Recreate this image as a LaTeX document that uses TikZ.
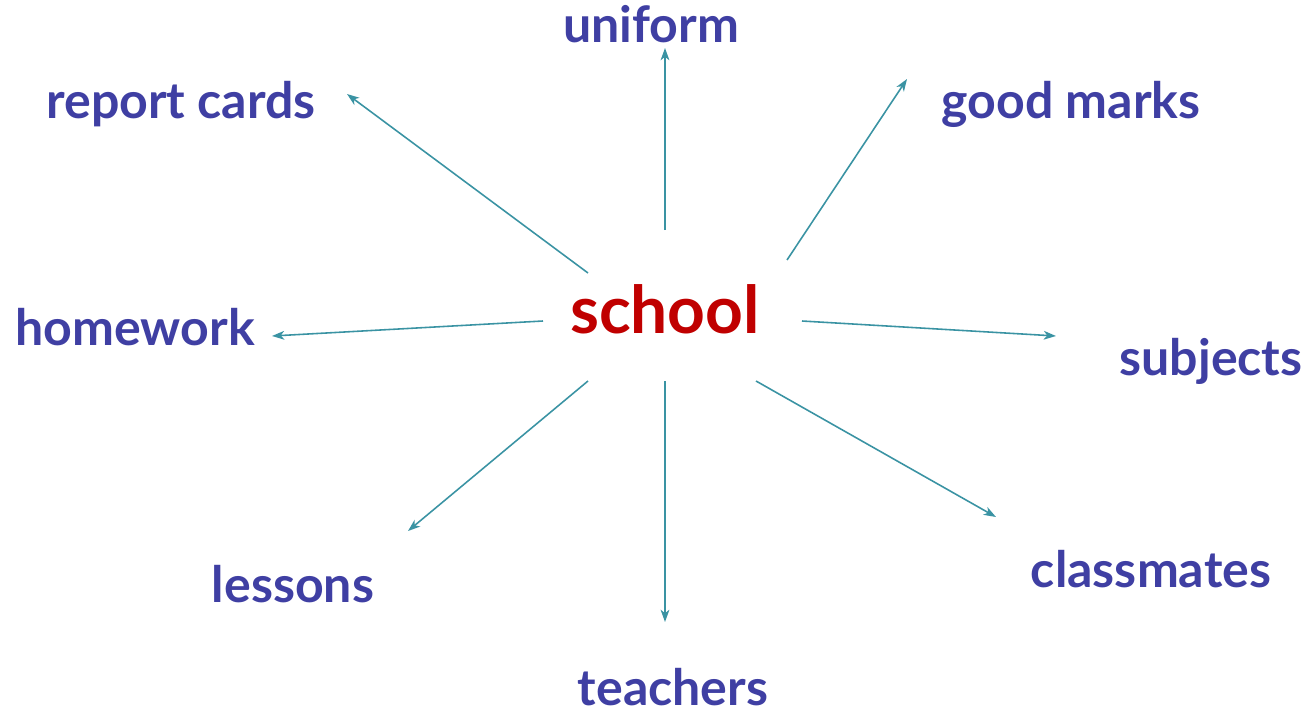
\documentclass[tikz,border=0pt]{standalone}
\usepackage{fontspec}
\setmainfont{Lato}
\usetikzlibrary{arrows.meta}
\definecolor{wordblue}{HTML}{3F3FA3}
\definecolor{schoolred}{HTML}{C00000}
\definecolor{arrowteal}{HTML}{3A93A3}
\tikzset{
  word/.style={text=wordblue, font=\fontsize{28.5}{32}\selectfont\bfseries, inner sep=0pt, anchor=base},
  spoke/.style={arrowteal, line width=0.9pt, -{Stealth[length=7pt, width=5pt, inset=2pt]}}
}
\begin{document}
\begin{tikzpicture}[x=0.02cm, y=-0.02cm]
    \useasboundingbox (0,0) rectangle (1308,713);

    \node[text=schoolred, font=\fontsize{37.5}{42}\selectfont\bfseries, inner sep=0pt, anchor=base] (school) at (665,333) {school};

    % the words round the centre
    \node[word] (uniform) at (651,43) {uniform};
    \node[word] (report) at (181,118) {report cards};
    \node[word] (marks) at (1071,118) {good marks};
    \node[word] (homework) at (135,345) {homework};
    \node[word] (subjects) at (1211,375) {subjects};
    \node[word] (lessons) at (293,602) {lessons};
    \node[word] (classmates) at (1151,587) {classmates};
    \node[word] (teachers) at (673,705) {teachers};

    % where the spokes start and stop
    \foreach \n/\sx/\sy/\ex/\ey in {uniform/665/230/665/48, report/588/273/347/94,
                                    marks/787/260/907/79, homework/543/321/272/336,
                                    subjects/802/321/1056/336, lessons/588/381/408/531,
                                    teachers/665/381/665/622, classmates/756/381/996/517} {
      \coordinate (from-\n) at (\sx,\sy);
      \coordinate (to-\n) at (\ex,\ey);
      \draw[spoke] (from-\n) -- (to-\n);
    }
\end{tikzpicture}
\end{document}
